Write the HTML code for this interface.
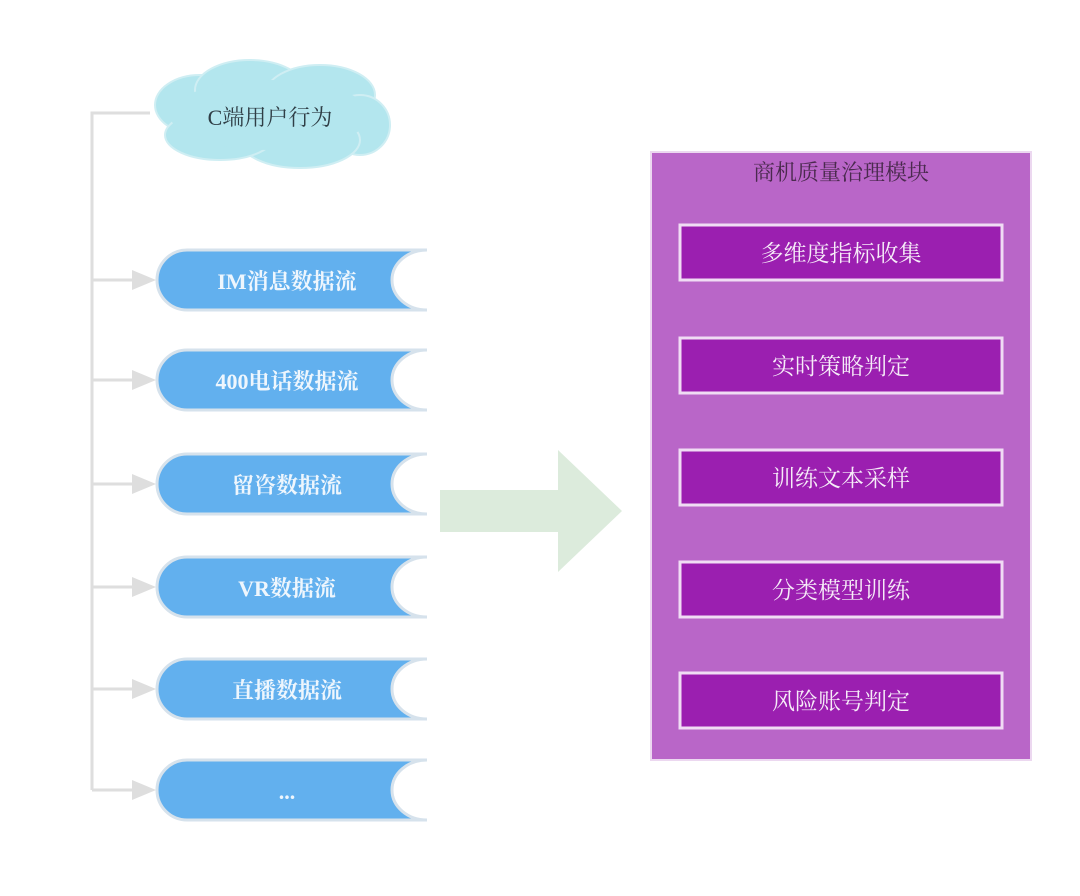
<!DOCTYPE html>
<html><head><meta charset="utf-8"><style>
body{margin:0;background:#fff;}
svg text{font-family:"Liberation Serif","Noto Serif CJK SC",serif;}
</style></head><body>
<svg width="1080" height="891" viewBox="0 0 1080 891" xmlns="http://www.w3.org/2000/svg">
<defs>
<marker id="ah" markerWidth="10" markerHeight="10" refX="9" refY="5" orient="auto" markerUnits="userSpaceOnUse"><path d="M0,0 L10,5 L0,10 Z" fill="#dcdcdc"/></marker>
</defs>
<!-- connectors -->
<path d="M150,113 H92 V790" fill="none" stroke="#dedede" stroke-width="3"/>
<g stroke="#dedede" stroke-width="3" fill="#dedede">
<line x1="92" y1="280" x2="140" y2="280"/><path d="M132,270 L156,280 L132,290Z" stroke="none"/>
<line x1="92" y1="380" x2="140" y2="380"/><path d="M132,370 L156,380 L132,390Z" stroke="none"/>
<line x1="92" y1="484" x2="140" y2="484"/><path d="M132,474 L156,484 L132,494Z" stroke="none"/>
<line x1="92" y1="587" x2="140" y2="587"/><path d="M132,577 L156,587 L132,597Z" stroke="none"/>
<line x1="92" y1="689" x2="140" y2="689"/><path d="M132,679 L156,689 L132,699Z" stroke="none"/>
<line x1="92" y1="790" x2="140" y2="790"/><path d="M132,780 L156,790 L132,800Z" stroke="none"/>
</g>
<!-- cloud -->
<g fill="#b3e6ee" stroke="#cfeef3" stroke-width="2">
<ellipse cx="200" cy="105" rx="45" ry="30"/>
<ellipse cx="250" cy="90" rx="55" ry="30"/>
<ellipse cx="320" cy="95" rx="55" ry="30"/>
<ellipse cx="360" cy="125" rx="30" ry="30"/>
<ellipse cx="300" cy="140" rx="60" ry="28"/>
<ellipse cx="220" cy="135" rx="55" ry="25"/>
</g>
<ellipse cx="270" cy="115" rx="100" ry="35" fill="#b3e6ee"/>
<text x="270" y="125" font-size="22" fill="#2f3e46" text-anchor="middle">C端用户行为</text>
<!-- pills -->
<g fill="#62b0ee" stroke="#d6e2ec" stroke-width="3">
<path d="M187,250 H427 A35,30 0 0 0 427,310 H187 A30,30 0 0 1 187,250Z"/>
<path d="M187,350 H427 A35,30 0 0 0 427,410 H187 A30,30 0 0 1 187,350Z"/>
<path d="M187,454 H427 A35,30 0 0 0 427,514 H187 A30,30 0 0 1 187,454Z"/>
<path d="M187,557 H427 A35,30 0 0 0 427,617 H187 A30,30 0 0 1 187,557Z"/>
<path d="M187,659 H427 A35,30 0 0 0 427,719 H187 A30,30 0 0 1 187,659Z"/>
<path d="M187,760 H427 A35,30 0 0 0 427,820 H187 A30,30 0 0 1 187,760Z"/>
</g>
<g fill="#eef6fd" font-size="22" font-weight="bold" text-anchor="middle">
<text x="287" y="289">IM消息数据流</text>
<text x="287" y="389">400电话数据流</text>
<text x="287" y="493">留咨数据流</text>
<text x="287" y="596">VR数据流</text>
<text x="287" y="698">直播数据流</text>
<text x="287" y="799">...</text>
</g>
<!-- big arrow -->
<path d="M440,490 H558 V450 L622,511 L558,572 V532 H440 Z" fill="#dcebdc"/>
<!-- purple module -->
<rect x="651" y="152" width="380" height="608" fill="#b966c8" stroke="#ecd8f0" stroke-width="2"/>
<text x="841" y="180" font-size="22" fill="#4a2a4e" text-anchor="middle">商机质量治理模块</text>
<g fill="#9b1fb0" stroke="#f0dcf4" stroke-width="3">
<rect x="680" y="225" width="322" height="55"/>
<rect x="680" y="338" width="322" height="55"/>
<rect x="680" y="450" width="322" height="55"/>
<rect x="680" y="562" width="322" height="55"/>
<rect x="680" y="673" width="322" height="55"/>
</g>
<g fill="#f6ecf8" font-size="23" text-anchor="middle">
<text x="841" y="261">多维度指标收集</text>
<text x="841" y="374">实时策略判定</text>
<text x="841" y="486">训练文本采样</text>
<text x="841" y="598">分类模型训练</text>
<text x="841" y="709">风险账号判定</text>
</g>
</svg>
</body></html>
